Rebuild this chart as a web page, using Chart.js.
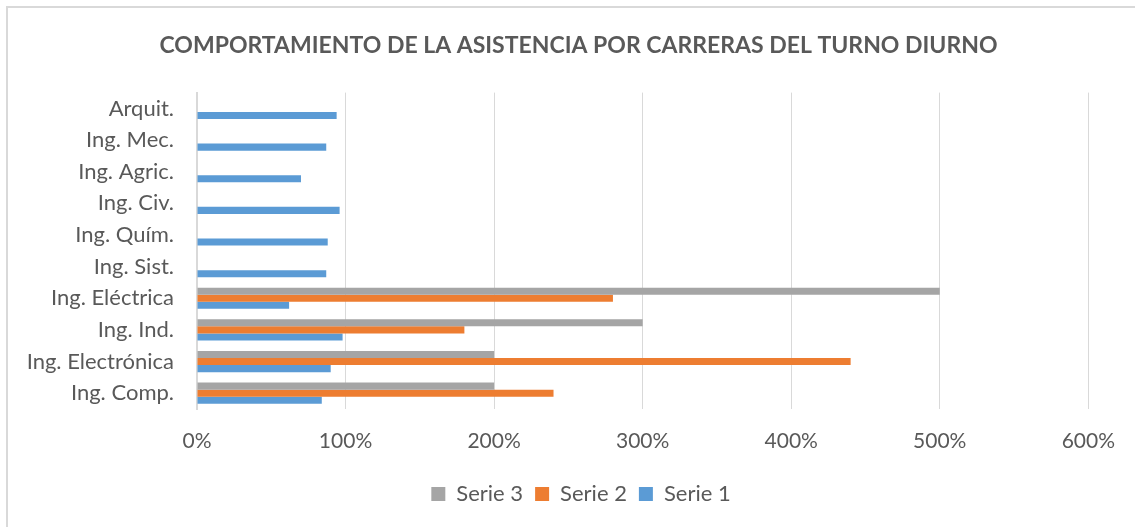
<!DOCTYPE html>
<html>
<head>
<meta charset="utf-8">
<script src="https://cdn.jsdelivr.net/npm/chart.js@4.4.1/dist/chart.umd.min.js"></script>
<style>
  html, body { margin: 0; padding: 0; background: #ffffff; }
  #wrap { position: relative; width: 1135px; height: 527px; overflow: hidden; }
  #frame { position: absolute; left: 6px; top: 6px; width: 1200px; height: 600px;
           border-left: 2px solid #d9d9d9; border-top: 2px solid #d9d9d9; pointer-events: none; }
  canvas { position: absolute; left: 0; top: 0; }
</style>
</head>
<body>
<div id="wrap">
  <canvas id="c" width="1135" height="527"></canvas>
  <div id="frame"></div>
</div>
<script>
const titleText = 'COMPORTAMIENTO DE LA ASISTENCIA POR CARRERAS DEL TURNO DIURNO';
const categories = ['Arquit.', 'Ing. Mec.', 'Ing. Agric.', 'Ing. Civ.', 'Ing. Quím.', 'Ing. Sist.', 'Ing. Eléctrica', 'Ing. Ind.', 'Ing. Electrónica', 'Ing. Comp.'];
const serie3 = [0, 0, 0, 0, 0, 0, 500, 300, 200, 200];
const serie2 = [0, 0, 0, 0, 0, 0, 280, 180, 440, 240];
const serie1 = [94, 87, 70, 96, 88, 87, 62, 98, 90, 84];
const xTickValues = [0, 100, 200, 300, 400, 500, 600];

const textColor = '#595959';
const gridColor = '#d9d9d9';
const fontFamily = 'Lato, "Open Sans", "Liberation Sans", sans-serif';

// shift title and legend blocks so they are centred like in the original
const shiftBlocks = {
  id: 'shiftBlocks',
  afterLayout(chart) {
    if (chart.titleBlock) chart.titleBlock.left += 57;
    if (chart.legend) chart.legend.left += 62;
  }
};

new Chart(document.getElementById('c'), {
  type: 'bar',
  data: {
    labels: categories,
    datasets: [
      { label: 'Serie 3', data: serie3, backgroundColor: '#a5a5a5', borderWidth: 0 },
      { label: 'Serie 2', data: serie2, backgroundColor: '#ed7d31', borderWidth: 0 },
      { label: 'Serie 1', data: serie1, backgroundColor: '#5b9bd5', borderWidth: 0 }
    ]
  },
  plugins: [shiftBlocks],
  options: {
    indexAxis: 'y',
    responsive: false,
    animation: false,
    devicePixelRatio: 1,
    categoryPercentage: 0.67,
    barPercentage: 1.0,
    layout: { padding: { left: 10, right: 45, top: 0, bottom: 12 } },
    plugins: {
      title: {
        display: true,
        text: titleText,
        color: textColor,
        font: { family: fontFamily, size: 23, weight: 'bold' },
        padding: { top: 32, bottom: 33 }
      },
      legend: {
        display: true,
        position: 'bottom',
        labels: {
          color: textColor,
          font: { family: fontFamily, size: 22 },
          boxWidth: 14,
          boxHeight: 14,
          padding: 12
        }
      },
      tooltip: { enabled: false }
    },
    scales: {
      x: {
        min: 0,
        max: 600,
        afterBuildTicks: (s) => { s.ticks = xTickValues.map(v => ({ value: v })); },
        afterFit: (s) => { s.height = 62; },
        ticks: {
          color: textColor,
          font: { family: fontFamily, size: 21 },
          padding: 20,
          callback: (v) => v + '%'
        },
        grid: { color: gridColor, lineWidth: 1, drawTicks: false },
        border: { display: false }
      },
      y: {
        afterFit: (s) => { s.width = 187; },
        ticks: {
          color: textColor,
          font: { family: fontFamily, size: 22 },
          padding: 23
        },
        grid: { display: false, drawTicks: false },
        border: { display: true, color: gridColor, width: 2 }
      }
    }
  }
});
</script>
</body>
</html>
